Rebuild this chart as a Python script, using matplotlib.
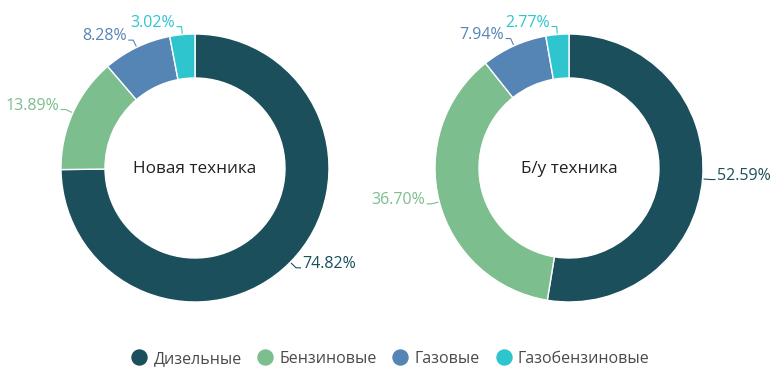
import numpy as np
import matplotlib.pyplot as plt
from matplotlib.lines import Line2D

plt.rcParams['font.family'] = ['Open Sans', 'DejaVu Sans']

categories = ["Дизельные", "Бензиновые", "Газовые", "Газобензиновые"]
new_values = [74.82, 13.89, 8.28, 3.02]
used_values = [52.59, 36.70, 7.94, 2.77]
titles = ["Новая техника", "Б/у техника"]
colors = ["#1b4f5c", "#7cbe8e", "#5585b5", "#2ec5ce"]

W, H = 776, 375
R_OUT = 134
R_IN = 90


def draw_donut(ax, cx, cy, values, title):
    ax.pie(values, colors=colors, startangle=90, counterclock=False,
           radius=R_OUT, center=(cx, cy),
           wedgeprops=dict(width=R_OUT - R_IN, edgecolor="white", linewidth=1))
    ax.text(cx, cy - 1, title, ha="center", va="center", fontsize=12.3, color="#222222")
    total = sum(values)
    start = 0.0
    for v, c in zip(values, colors):
        mid = start + v / 2
        start += v
        ang = np.deg2rad(90 - mid / total * 360)
        x0 = cx + (R_OUT + 1) * np.cos(ang)
        y0 = cy + (R_OUT + 1) * np.sin(ang)
        x1 = cx + (R_OUT + 8) * np.cos(ang)
        y1 = cy + (R_OUT + 8) * np.sin(ang)
        side = 1 if np.cos(ang) >= 0 else -1
        x2 = x1 + side * 5
        ax.plot([x0, x1, x2], [y0, y1, y1], color=c, lw=0.8, solid_capstyle="butt")
        ax.text(x2 + side * 1.5, y1 + 4, f"{v:.2f}%", color=c, fontsize=11.5,
                ha="left" if side > 0 else "right", va="center")


fig = plt.figure(figsize=(W / 100, H / 100), dpi=100)
ax = fig.add_axes([0, 0, 1, 1])

draw_donut(ax, 195, H - 168, new_values, titles[0])
draw_donut(ax, 569, H - 168, used_values, titles[1])

ax.set_xlim(0, W)
ax.set_ylim(0, H)
ax.set_aspect("equal")
ax.axis("off")

handles = [Line2D([], [], marker="o", ls="", markersize=10.8, color=c) for c in colors]
fig.legend(handles, categories, loc="center", bbox_to_anchor=(0.5, 1 - 359 / H),
           ncol=4, frameon=False, fontsize=11.5, handletextpad=0.1,
           handlelength=1.6, columnspacing=0.67, labelcolor="#4a4a4a")

fig.savefig("out.png", dpi=100)
